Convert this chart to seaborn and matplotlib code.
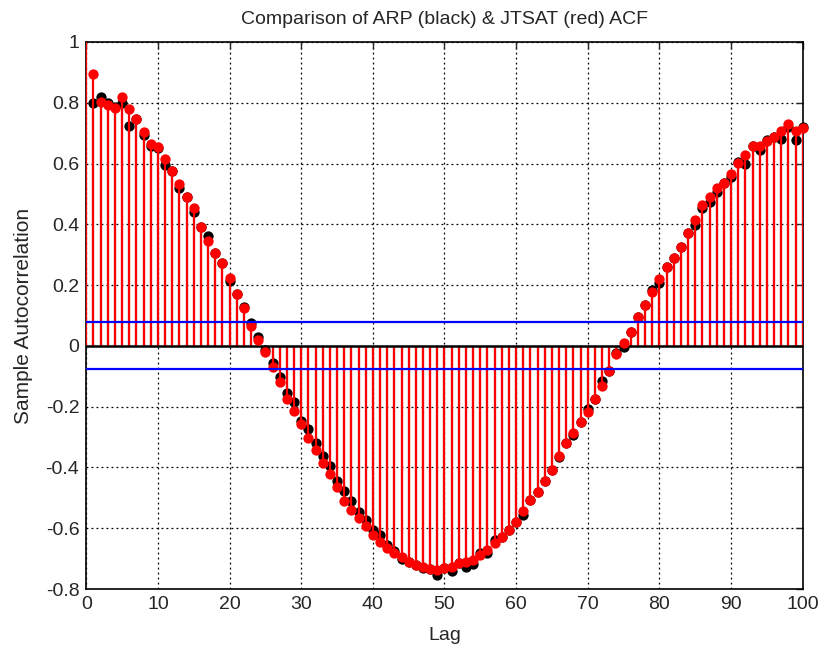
import numpy as np
import pandas as pd
import matplotlib
matplotlib.use("Agg")
import matplotlib.pyplot as plt
import seaborn as sns

lags = list(range(1, 101))
arp_black = [0.798, 0.818, 0.800, 0.785, 0.798, 0.725, 0.745, 0.694, 0.658, 0.652,
             0.595, 0.577, 0.519, 0.491, 0.442, 0.392, 0.360, 0.307, 0.272, 0.215,
             0.171, 0.129, 0.075, 0.030, -0.013, -0.057, -0.103, -0.156, -0.186, -0.246,
             -0.274, -0.320, -0.361, -0.394, -0.446, -0.476, -0.512, -0.545, -0.572, -0.605,
             -0.622, -0.655, -0.675, -0.700, -0.710, -0.720, -0.731, -0.735, -0.753, -0.731,
             -0.742, -0.715, -0.726, -0.717, -0.683, -0.682, -0.638, -0.629, -0.605, -0.578,
             -0.558, -0.507, -0.481, -0.446, -0.410, -0.366, -0.318, -0.293, -0.251, -0.208,
             -0.174, -0.115, -0.081, -0.024, -0.002, 0.045, 0.094, 0.133, 0.184, 0.208,
             0.258, 0.288, 0.327, 0.373, 0.398, 0.453, 0.475, 0.508, 0.535, 0.557,
             0.605, 0.599, 0.658, 0.645, 0.678, 0.686, 0.681, 0.721, 0.678, 0.719]
jtsat_red = [0.894, 0.804, 0.793, 0.782, 0.818, 0.780, 0.747, 0.703, 0.664, 0.653,
             0.615, 0.577, 0.533, 0.491, 0.453, 0.392, 0.345, 0.307, 0.272, 0.225,
             0.171, 0.124, 0.065, 0.019, -0.019, -0.068, -0.120, -0.175, -0.214, -0.257,
             -0.302, -0.344, -0.384, -0.421, -0.465, -0.509, -0.539, -0.567, -0.591, -0.622,
             -0.644, -0.665, -0.682, -0.694, -0.710, -0.720, -0.726, -0.735, -0.737, -0.731,
             -0.726, -0.715, -0.710, -0.704, -0.688, -0.671, -0.649, -0.629, -0.605, -0.578,
             -0.542, -0.507, -0.481, -0.446, -0.410, -0.362, -0.318, -0.287, -0.251, -0.219,
             -0.174, -0.132, -0.081, -0.028, 0.008, 0.046, 0.094, 0.133, 0.177, 0.219,
             0.258, 0.288, 0.327, 0.373, 0.414, 0.464, 0.491, 0.519, 0.535, 0.565,
             0.601, 0.628, 0.658, 0.658, 0.674, 0.686, 0.708, 0.730, 0.708, 0.716]
lag0_value = 1.0
conf_bound = 0.0775
xticks = list(range(0, 101, 10))
yticks = [-0.8, -0.6, -0.4, -0.2, 0, 0.2, 0.4, 0.6, 0.8, 1]
ytick_labels = ["-0.8", "-0.6", "-0.4", "-0.2", "0", "0.2", "0.4", "0.6", "0.8", "1"]

sns.set_style("white")
plt.rcParams['font.family'] = ['Liberation Sans', 'DejaVu Sans']

df_b = pd.DataFrame({"Lag": lags, "ACF": arp_black})
df_r = pd.DataFrame({"Lag": lags, "ACF": jtsat_red})

fig = plt.figure(figsize=(8.22, 6.52), dpi=100)
ax = fig.add_axes([0.105, 0.0966, 0.8715, 0.839])

# black series (ARP)
ax.vlines(df_b["Lag"], 0, df_b["ACF"], color="black", linewidth=1.5, zorder=2)
sns.scatterplot(data=df_b, x="Lag", y="ACF", ax=ax, color="black", s=55,
                linewidth=0, zorder=3, clip_on=False)
# red series (JTSAT)
ax.vlines([0] + lags, 0, [lag0_value] + jtsat_red, color="red", linewidth=1.6, zorder=4)
sns.scatterplot(data=df_r, x="Lag", y="ACF", ax=ax, color="red", s=55,
                linewidth=0, zorder=5, clip_on=False)

ax.axhline(0, color="black", linewidth=1.8, zorder=4.5)
ax.axhline(conf_bound, color="blue", linewidth=1.6, zorder=6)
ax.axhline(-conf_bound, color="blue", linewidth=1.6, zorder=6)

ax.set_xlim(0, 100)
ax.set_ylim(-0.8, 1)
ax.set_xticks(xticks)
ax.set_yticks(yticks)
ax.set_yticklabels(ytick_labels)
ax.grid(True, color="black", linestyle=(0, (1.5, 2.5)), linewidth=0.9)
ax.set_axisbelow(True)
ax.tick_params(direction="in", top=True, right=True, length=5, width=1,
               labelsize=14, pad=5)
for sp in ax.spines.values():
    sp.set_visible(True)
    sp.set_color("black")
    sp.set_linewidth(1.2)

ax.set_xlabel("Lag", fontsize=14, labelpad=10)
ax.set_ylabel("Sample Autocorrelation", fontsize=15, labelpad=9)
ax.set_title("Comparison of ARP (black) & JTSAT (red) ACF", fontsize=14, pad=13)

fig.savefig("out.png", dpi=100)
